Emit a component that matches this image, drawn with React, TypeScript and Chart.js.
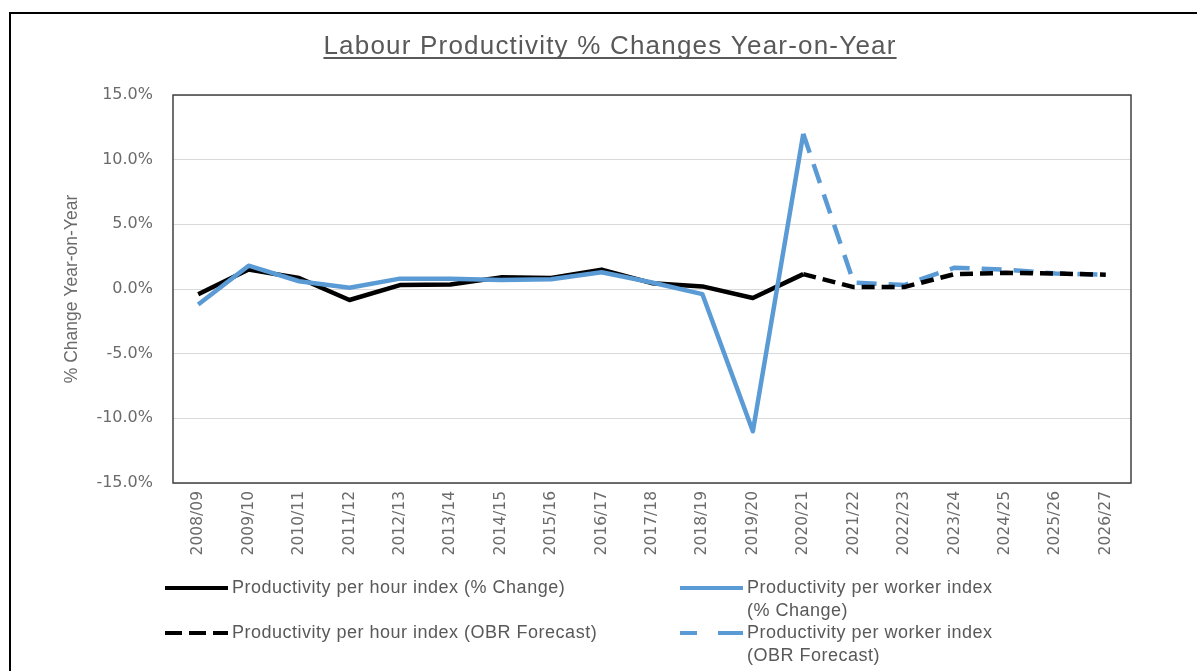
import React, { useEffect, useRef } from "react";
import { Chart, registerables } from "chart.js";

Chart.register(...registerables);

const categories = [
  "2008/09", "2009/10", "2010/11", "2011/12", "2012/13", "2013/14", "2014/15",
  "2015/16", "2016/17", "2017/18", "2018/19", "2019/20", "2020/21", "2021/22",
  "2022/23", "2023/24", "2024/25", "2025/26", "2026/27",
];

const hourActual = [-0.4, 1.5, 0.85, -0.85, 0.3, 0.35, 0.9, 0.85, 1.5, 0.45, 0.2, -0.7, 1.15, null, null, null, null, null, null];
const workerActual = [-1.2, 1.8, 0.6, 0.1, 0.8, 0.8, 0.7, 0.75, 1.3, 0.5, -0.4, -11.0, 12.0, null, null, null, null, null, null];
const hourForecast = [null, null, null, null, null, null, null, null, null, null, null, null, 1.15, 0.15, 0.15, 1.15, 1.25, 1.2, 1.1];
const workerForecast = [null, null, null, null, null, null, null, null, null, null, null, null, 12.0, 0.5, 0.3, 1.65, 1.5, 1.2, 1.1];

const yTicks = [-15, -10, -5, 0, 5, 10, 15];

const TITLE = "Labour Productivity % Changes Year-on-Year";
const Y_TITLE = "% Change Year-on-Year";
const LEGEND_HOUR = "Productivity per hour index (% Change)";
const LEGEND_HOUR_F = "Productivity per hour index (OBR Forecast)";
const LEGEND_WORKER = ["Productivity per worker index", "(% Change)"];
const LEGEND_WORKER_F = ["Productivity per worker index", "(OBR Forecast)"];

const BLUE = "#5b9bd5";
const BLACK = "#000000";
const TEXT = "#595959";
const SANS = "'Liberation Sans', sans-serif";
const TICKF = "'DejaVu Sans', sans-serif";

const decorPlugin = {
  id: "decor",
  afterDraw(chart: any) {
    const ctx = chart.ctx as any;
    const a = chart.chartArea;
    ctx.save();
    // outer frame
    ctx.strokeStyle = "#000";
    ctx.lineWidth = 2;
    ctx.strokeRect(10, 13, 1400, 1000);
    // plot border
    ctx.strokeStyle = "#404040";
    ctx.lineWidth = 1.5;
    ctx.strokeRect(a.left, a.top, a.right - a.left, a.bottom - a.top);
    // title
    ctx.fillStyle = TEXT;
    ctx.font = `26px ${SANS}`;
    ctx.letterSpacing = "1.2px";
    ctx.textAlign = "left";
    ctx.textBaseline = "alphabetic";
    const tw = ctx.measureText(TITLE).width;
    ctx.fillText(TITLE, 610 - tw / 2, 54);
    ctx.fillRect(610 - tw / 2, 57, tw, 2);
    // legend
    ctx.font = `18px ${SANS}`;
    ctx.letterSpacing = "0.5px";
    ctx.textAlign = "left";
    ctx.textBaseline = "middle";
    const drawLine = (x1: number, x2: number, y: number, color: string, dash: number[]) => {
      ctx.beginPath();
      ctx.setLineDash(dash);
      ctx.strokeStyle = color;
      ctx.lineWidth = 4;
      ctx.lineCap = "butt";
      ctx.moveTo(x1, y);
      ctx.lineTo(x2, y);
      ctx.stroke();
      ctx.setLineDash([]);
    };
    drawLine(165, 228, 588, BLACK, []);
    ctx.fillText(LEGEND_HOUR, 232, 588);
    drawLine(165, 228, 633, BLACK, [17, 7]);
    ctx.fillText(LEGEND_HOUR_F, 232, 633);
    drawLine(680, 743, 588, BLUE, []);
    ctx.fillText(LEGEND_WORKER[0], 747, 588);
    ctx.fillText(LEGEND_WORKER[1], 747, 611);
    drawLine(680, 743, 633, BLUE, [17, 21, 25, 100]);
    ctx.fillText(LEGEND_WORKER_F[0], 747, 633);
    ctx.fillText(LEGEND_WORKER_F[1], 747, 656);
    ctx.restore();
  },
};

export default function App() {
  const ref = useRef<HTMLCanvasElement | null>(null);
  useEffect(() => {
    if (!ref.current) return;
    const common = { pointRadius: 0, pointHoverRadius: 0, tension: 0, borderWidth: 4.5, fill: false, spanGaps: false, borderCapStyle: "butt", borderJoinStyle: "round" };
    const chart = new Chart(ref.current, {
      type: "line",
      data: {
        labels: categories,
        datasets: [
          { label: "Productivity per hour index (OBR Forecast)", data: hourForecast, borderColor: BLACK, backgroundColor: BLACK, borderDash: [13, 7], order: 0, ...common },
          { label: "Productivity per worker index (% Change)", data: workerActual, borderColor: BLUE, backgroundColor: BLUE, order: 1, ...common },
          { label: "Productivity per hour index (% Change)", data: hourActual, borderColor: BLACK, backgroundColor: BLACK, order: 2, ...common },
          { label: "Productivity per worker index (OBR Forecast)", data: workerForecast, borderColor: BLUE, backgroundColor: BLUE, borderDash: [20, 12], order: 3, ...common },
        ] as any,
      },
      options: {
        responsive: false,
        animation: false,
        layout: { padding: { left: 0, right: 66, top: 95, bottom: 108 } },
        plugins: { legend: { display: false }, title: { display: false }, tooltip: { enabled: false } },
        scales: {
          x: {
            offset: true,
            grid: { display: false, drawTicks: false },
            border: { display: false },
            ticks: { autoSkip: false, minRotation: 90, maxRotation: 90, padding: 8, color: "#6b6b6b", font: { family: TICKF, size: 15.5 } },
            afterFit(scale: any) { scale.height = 80; },
          },
          y: {
            min: -15,
            max: 15,
            afterBuildTicks(scale: any) { scale.ticks = yTicks.map((v) => ({ value: v })); },
            grid: { color: "#d9d9d9", lineWidth: 1, drawTicks: false },
            border: { display: false },
            ticks: { padding: 20, color: "#6b6b6b", font: { family: TICKF, size: 16 }, callback: (v: any) => Number(v).toFixed(1) + "%" },
            title: { display: true, text: Y_TITLE, color: "#6b6b6b", font: { family: SANS, size: 17.5 }, padding: { top: 62, bottom: 0 } },
            afterFit(scale: any) { scale.width = 173; },
          },
        },
      } as any,
      plugins: [decorPlugin],
    });
    return () => chart.destroy();
  }, []);
  return (
    <div style={{ position: "fixed", left: 0, top: 0, width: 1197, height: 671, background: "#fff" }}>
      <canvas ref={ref} width={1197} height={671} style={{ display: "block" }} />
    </div>
  );
}
